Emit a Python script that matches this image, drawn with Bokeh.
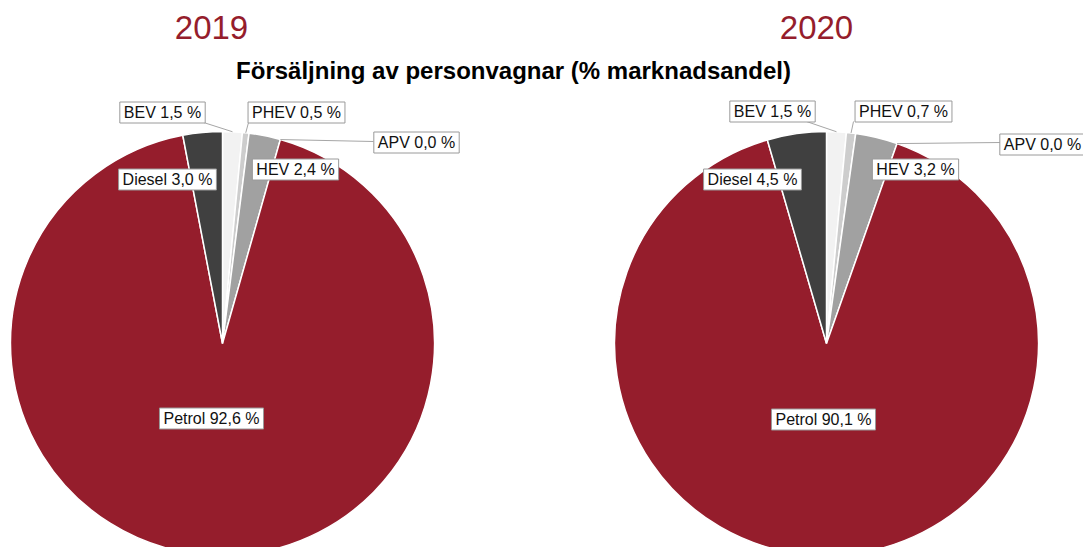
import math
from bokeh.plotting import figure
from bokeh.models import ColumnDataSource, Range1d
from bokeh.core.properties import value
from bokeh.embed import file_html
from bokeh.resources import INLINE

# ---------------- data ----------------
categories = ["BEV", "PHEV", "HEV", "APV", "Petrol", "Diesel"]
share_2019 = [1.5, 0.5, 2.4, 0.0, 92.6, 3.0]
share_2020 = [1.5, 0.7, 3.2, 0.0, 90.1, 4.5]
years = ["2019", "2020"]
main_title = "Försäljning av personvagnar (% marknadsandel)"

# ---------------- style / layout ----------------
colors = {"BEV": "#F2F2F2", "PHEV": "#CDCDCD", "HEV": "#A1A1A1", "APV": "#7F7F7F",
          "Petrol": "#951D2C", "Diesel": "#404040"}
RED = "#951D2C"
W, H = 1083, 547
R = 212
centers = [(222, 343), (826, 343)]   # pixel coords, y downward
year_x = [211, 816]
label_off = [
    {"BEV": (-60, -231), "PHEV": (74, -231), "HEV": (73, -174), "APV": (194, -201),
     "Petrol": (-11, 75), "Diesel": (-55, -164)},
    {"BEV": (-54, -232), "PHEV": (77, -232), "HEV": (89, -174), "APV": (216, -199),
     "Petrol": (-3, 76), "Diesel": (-74, -164)},
]
leader_end = [
    {"BEV": (-22, -222), "PHEV": (26, -221), "APV": (151, -202)},
    {"BEV": (-23, -223), "PHEV": (27, -222), "APV": (174, -201)},
]

p = figure(width=W, height=H, output_backend="svg", toolbar_location=None,
           x_range=Range1d(0, W), y_range=Range1d(0, H),
           x_axis_location=None, y_axis_location=None, min_border=0)
p.grid.visible = False
p.outline_line_color = None
p.background_fill_color = "white"
p.border_fill_color = "white"


def fy(py):
    return H - py


for i, shares in enumerate([share_2019, share_2020]):
    cx, cy = centers[i]
    total = sum(shares)
    cum = 0.0
    wx, wy, ws, we, wc = [], [], [], [], []
    lx, ly, lt = [], [], []
    segs_x0, segs_y0, segs_x1, segs_y1 = [], [], [], []
    for cat, v in zip(categories, shares):
        a0 = math.pi / 2 - 2 * math.pi * cum / total
        a1 = math.pi / 2 - 2 * math.pi * (cum + v) / total
        amid = math.pi / 2 - 2 * math.pi * (cum + v / 2) / total
        if v > 0:
            wx.append(cx); wy.append(fy(cy)); ws.append(a0); we.append(a1); wc.append(colors[cat])
        ox, oy = label_off[i][cat]
        lx.append(cx + ox); ly.append(fy(cy + oy))
        lt.append(f"{cat} {v:.1f} %".replace(".", ","))
        if cat in leader_end[i]:
            ex, ey = leader_end[i][cat]
            sx = cx + R * math.cos(amid)
            sy = fy(cy) + R * math.sin(amid)
            segs_x0.append(sx); segs_y0.append(sy)
            segs_x1.append(cx + ex); segs_y1.append(fy(cy + ey))
        cum += v

    wsrc = ColumnDataSource(dict(x=wx, y=wy, s=ws, e=we, c=wc))
    p.wedge(x="x", y="y", radius=R, start_angle="s", end_angle="e", direction="clock",
            fill_color="c", line_color="white", line_width=1.5, source=wsrc)

    p.segment(x0=segs_x0, y0=segs_y0, x1=segs_x1, y1=segs_y1,
              line_color="#A6A6A6", line_width=1)

    lsrc = ColumnDataSource(dict(x=lx, y=ly, t=lt))
    p.text(x="x", y="y", text="t", source=lsrc, text_font=value("Liberation Sans"),
           text_font_size="16px", text_color="#111111", text_align="center",
           text_baseline="middle", background_fill_color="white",
           border_line_color="#9A9A9A", border_line_width=1, padding=(4, 2))

    p.text(x=[year_x[i]], y=[fy(27)], text=[years[i]], text_font=value("Liberation Sans"),
           text_font_size="33px", text_color=RED, text_align="center",
           text_baseline="middle")

p.text(x=[513], y=[fy(70)], text=[main_title], text_font=value("Liberation Sans"),
       text_font_size="24px", text_font_style="bold", text_color="black",
       text_align="center", text_baseline="middle")

open("out.html", "w").write(file_html(p, INLINE))
